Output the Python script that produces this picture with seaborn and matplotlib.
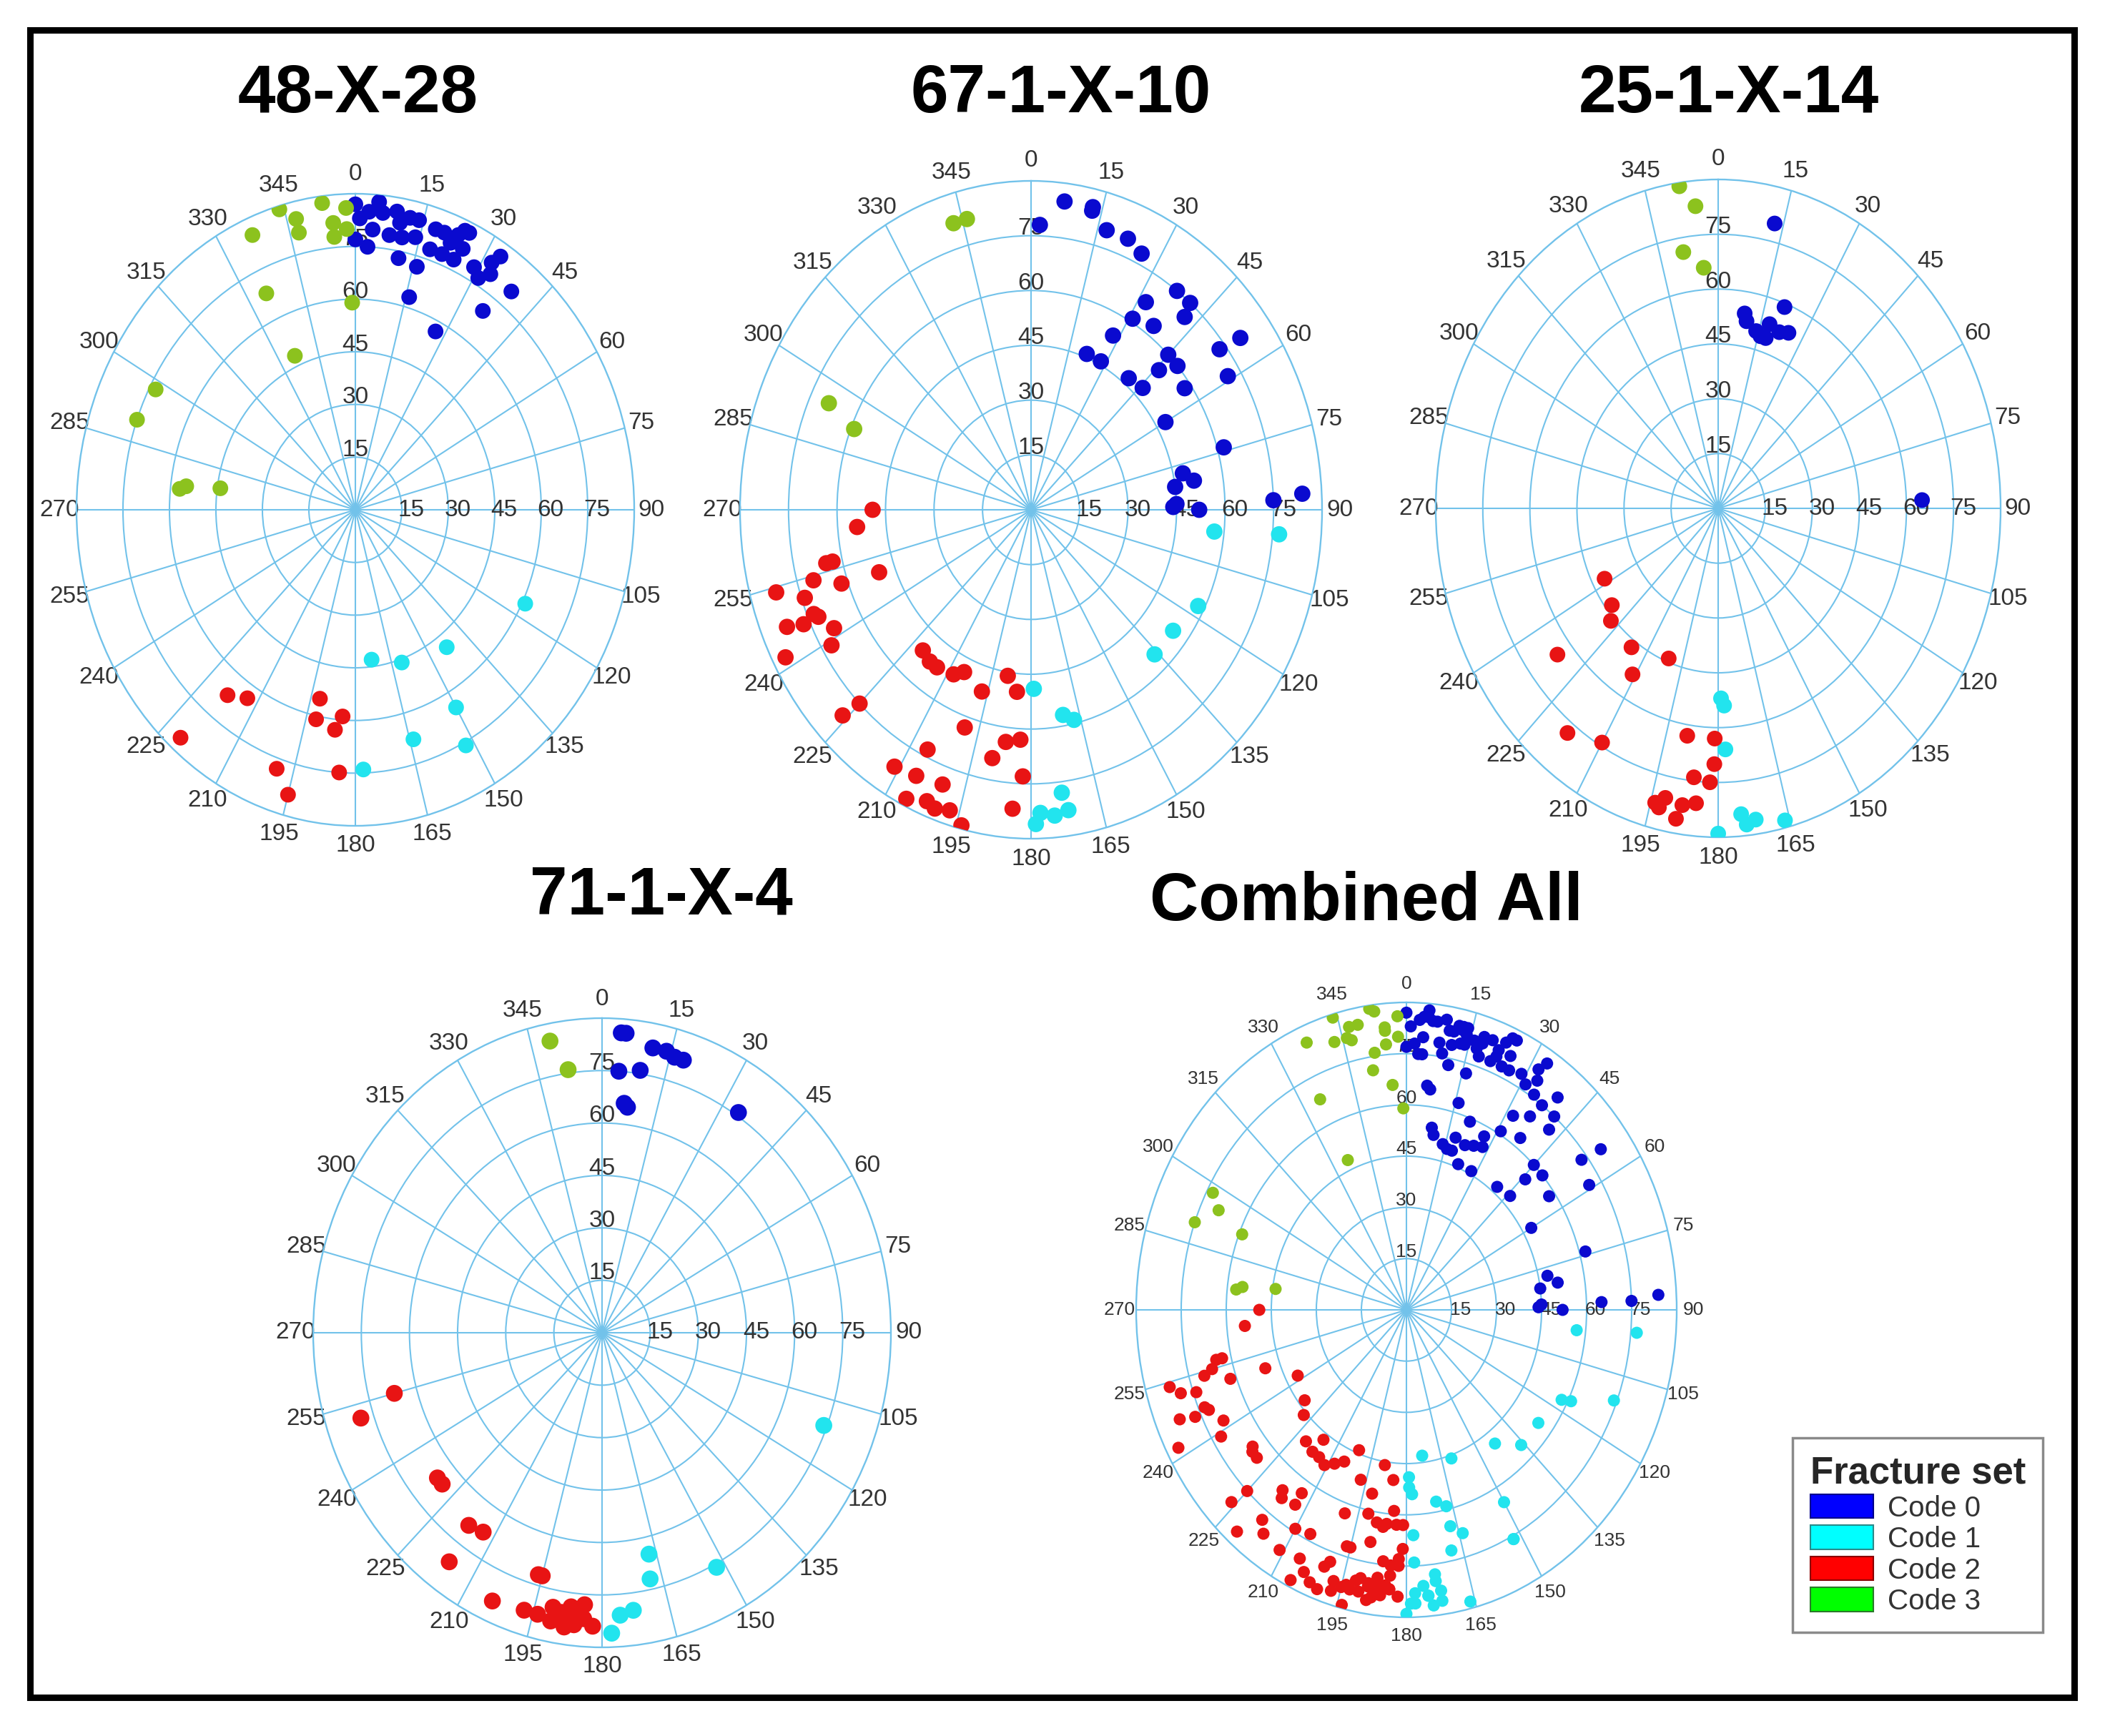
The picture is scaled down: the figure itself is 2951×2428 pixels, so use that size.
import numpy as np
import pandas as pd
import matplotlib
matplotlib.use("Agg")
import matplotlib.pyplot as plt
from matplotlib.patches import Patch, Rectangle
import seaborn as sns

# ==========================================
# Fracture poles: azimuth (deg), dip (deg), fracture set code
# ==========================================

# 48-X-28
az_48 = [0, 1, 0, 3, 4, 3, 6, 8, 9, 10, 11, 12, 14, 14, 18, 20, 22, 23, 25, 25, 24, 21, 18, 16,
         29, 31, 32, 33, 33, 11, 16, 39, 36, 27, 5, 24,
         116, 143, 161, 173, 150, 164, 152, 178,
         218, 213, 192, 192, 184, 186, 221, 199, 195, 184,
         344, 353, 358, 347, 347, 337, 355, 355, 358, 335, 359, 336, 298, 290, 276, 277, 278]
dip_48 = [87, 83, 77, 85, 80, 75, 85, 79, 86, 83, 79, 85, 85, 80, 84, 84, 82, 85, 87, 82, 78, 78, 78, 72,
          79, 77, 83, 86, 80, 73, 63, 80, 70, 57, 88, 87,
          61, 49, 46, 43, 65, 68, 76, 74,
          67, 64, 55, 61, 59, 63, 86, 78, 84, 75,
          89, 88, 86, 85, 81, 85, 82, 78, 80, 68, 59, 48, 73, 75, 57, 55, 44]
set_48 = [0] * 36 + [1] * 8 + [2] * 10 + [3] * 17

# 67-1-X-10
az_67 = [2, 7, 13, 13, 17, 22, 26, 37, 41, 42, 32, 31, 37, 28, 22, 28, 54, 53, 59, 45, 49, 46,
         40, 46, 55, 60, 74, 78, 81, 82, 89, 90, 88, 87, 88,
         96, 95, 117, 127, 136, 179, 170, 167, 173, 172, 175, 178, 179,
         270, 265, 250, 257, 257, 251, 254, 254, 251, 247, 246, 247, 246, 242, 239, 242, 221, 217,
         214, 208, 205, 197, 189, 185, 226, 225, 199, 187, 183, 190, 206, 211, 206, 200, 206, 202,
         200, 197, 194, 182, 184,
         343, 346, 295, 292]
dip_67 = [78, 85, 85, 84, 80, 80, 78, 75, 75, 71, 67, 61, 63, 54, 46, 46, 80, 73, 71, 60, 60, 55,
          47, 48, 58, 48, 62, 48, 51, 45, 44, 52, 75, 84, 45,
          57, 77, 58, 55, 55, 49, 57, 59, 78, 83, 84, 83, 86,
          49, 54, 50, 65, 63, 62, 70, 82, 74, 73, 72, 82, 77, 69, 72, 86, 51, 52,
          52, 51, 49, 52, 46, 50, 81, 75, 63, 64, 63, 69, 73, 82, 81, 80, 88, 86,
          87, 86, 89, 73, 82,
          82, 82, 69, 59]
set_67 = [0] * 35 + [1] * 13 + [2] * 41 + [3] * 4

# 25-1-X-14
az_25 = [13, 21, 9, 10, 14, 18, 18, 22, 25, 16, 88,
         179, 178, 178, 175, 172, 174, 166, 180,
         242, 232, 228, 216, 201, 232, 211, 218, 210, 189, 181, 181, 186, 182, 185, 194, 192, 188,
         189, 193,
         352, 355, 351, 356]
dip_25 = [80, 59, 54, 52, 50, 49, 53, 52, 53, 49, 65,
          52, 54, 66, 84, 86, 87, 88, 89,
          41, 43, 46, 47, 44, 65, 53, 78, 74, 63, 63, 70, 74, 75, 81, 83, 81, 82,
          86, 84,
          89, 83, 71, 66]
set_25 = [0] * 11 + [1] * 8 + [2] * 20 + [3] * 4

# 71-1-X-4
az_71 = [4, 5, 11, 14, 16, 18, 4, 9, 6, 7, 34,
         111, 167, 168, 152, 173, 176, 178,
         255, 252, 231, 229, 217, 213, 216, 196, 195, 204, 197, 194, 191, 189, 187, 184, 191, 188,
         186, 184, 182, 187, 189, 185,
         349, 352]
dip_71 = [86, 86, 83, 83, 82, 82, 75, 76, 66, 65, 76,
          74, 65, 72, 76, 80, 81, 86,
          67, 79, 66, 66, 69, 68, 81, 72, 72, 84, 83, 83, 80, 81, 79, 78, 84, 85,
          84, 82, 84, 82, 82, 81,
          85, 76]
set_71 = [0] * 11 + [1] * 7 + [2] * 24 + [3] * 2

set_names = ["Code 0", "Code 1", "Code 2", "Code 3"]
dot_colors = ["#0A0ACF", "#22E4EE", "#E81414", "#8CC21E"]
legend_colors = ["#0000FF", "#00FFFF", "#FF0000", "#00FF00"]
legend_edges = ["#00008B", "#2A8A8A", "#8B0000", "#2A7A2A"]

angle_ticks = list(range(0, 360, 15))
dip_rings = [15, 30, 45, 60, 75]

# ==========================================
# Figure
# ==========================================

sns.set_theme(style="white")
plt.rcParams["font.family"] = ["Liberation Sans", "DejaVu Sans"]

W, H = 2951, 2428
fig = plt.figure(figsize=(W / 100, H / 100), dpi=100)
fig.patch.set_facecolor("white")

palette = dict(zip(set_names, dot_colors))
grid_blue = "#72C2EA"
label_grey = "#333333"


def stereo_panel(cx, cy, rh, rv, az, dip, codes, size, fs):
    ax = fig.add_axes([(cx - rh) / W, 1 - (cy + rv) / H, 2 * rh / W, 2 * rv / H],
                      projection="polar")
    ax.set_aspect("auto")
    ax.set_theta_zero_location("N")
    ax.set_theta_direction(-1)

    df = pd.DataFrame({
        "theta": np.deg2rad(az),
        "dip": dip,
        "set": [set_names[c] for c in codes],
    })
    sns.scatterplot(data=df, x="theta", y="dip", hue="set", palette=palette,
                    s=size, linewidth=0, legend=False, ax=ax, zorder=4)

    ax.set_ylim(0, 90)
    ax.set_xticks(np.deg2rad(angle_ticks))
    ax.set_yticks(dip_rings)
    ax.set_xticklabels([])
    ax.set_yticklabels([])
    ax.set_xlabel("")
    ax.set_ylabel("")
    ax.grid(True, color=grid_blue, linewidth=1.5)
    ax.spines["polar"].set_color(grid_blue)
    ax.spines["polar"].set_linewidth(1.7)

    # azimuth labels round the rim
    for a in angle_ticks:
        ax.text(np.deg2rad(a), 95.5, str(a), ha="center", va="center",
                fontsize=fs, color=label_grey, clip_on=False, zorder=2)
    # dip labels along the north and east axes
    for v in dip_rings:
        ax.text(0, v + 2, str(v), ha="center", va="center",
                fontsize=fs, color=label_grey, zorder=2)
        ax.text(np.pi / 2, v + 3, str(v), ha="center", va="center",
                fontsize=fs, color=label_grey, zorder=2)
    return ax


stereo_panel(497, 713, 390, 442, az_48, dip_48, set_48, 250, 24)
stereo_panel(1442, 713, 407, 460, az_67, dip_67, set_67, 270, 24)
stereo_panel(2403, 711, 395, 460, az_25, dip_25, set_25, 250, 24)
stereo_panel(842, 1864, 404, 440, az_71, dip_71, set_71, 290, 24)

# Combined plot = all four wells together
az_all = az_48 + az_67 + az_25 + az_71
dip_all = dip_48 + dip_67 + dip_25 + dip_71
set_all = set_48 + set_67 + set_25 + set_71
stereo_panel(1967, 1832, 378, 430, az_all, dip_all, set_all, 150, 19)

# Titles
titles = ["48-X-28", "67-1-X-10", "25-1-X-14", "71-1-X-4", "Combined All"]
title_xy = [(501, 132), (1484, 132), (2418, 132), (925, 1254), (1911, 1262)]
for t, (tx, ty) in zip(titles, title_xy):
    fig.text(tx / W, 1 - ty / H, t, ha="center", va="center",
             fontsize=68, fontweight="bold", color="black")

# Legend
handles = [Patch(facecolor=c, edgecolor=e, linewidth=1.5)
           for c, e in zip(legend_colors, legend_edges)]
leg = fig.legend(handles, set_names, loc="upper right",
                 bbox_to_anchor=(2857 / W, 1 - 2011 / H),
                 title="Fracture set",
                 title_fontproperties={"weight": "bold", "size": 38},
                 fontsize=29, labelcolor=label_grey, alignment="left",
                 handlelength=2.2, handleheight=0.9, handletextpad=0.5,
                 labelspacing=0.12, borderpad=0.6, borderaxespad=0,
                 frameon=True, fancybox=False, framealpha=1,
                 edgecolor="#8A8A8A")
leg.get_frame().set_linewidth(2.5)

# Outer frame
fig.add_artist(Rectangle((42 / W, 1 - 2374 / H), (2901 - 42) / W, (2374 - 42) / H,
                         transform=fig.transFigure, fill=False,
                         edgecolor="black", linewidth=6.5))

fig.savefig("out.png", dpi=100, facecolor="white")
